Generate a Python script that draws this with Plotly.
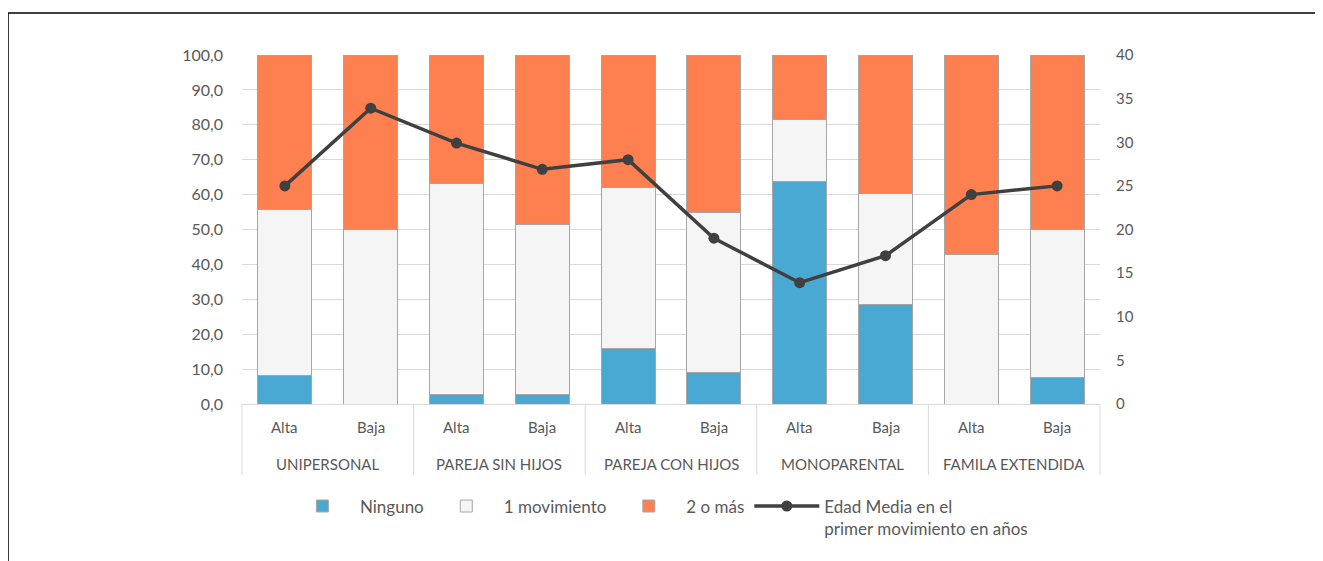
import plotly.graph_objects as go

groups = ["UNIPERSONAL", "UNIPERSONAL", "PAREJA SIN HIJOS", "PAREJA SIN HIJOS",
          "PAREJA CON HIJOS", "PAREJA CON HIJOS", "MONOPARENTAL", "MONOPARENTAL",
          "FAMILA EXTENDIDA", "FAMILA EXTENDIDA"]
levels = ["Alta", "Baja"] * 5

ninguno = [8.3, 0.0, 2.6, 2.6, 16.0, 9.1, 63.7, 28.4, 0.0, 7.5]
un_mov = [47.3, 50.0, 60.7, 48.7, 45.9, 45.8, 17.9, 31.8, 42.7, 42.4]
dos_mas = [44.4, 50.0, 36.7, 48.7, 38.1, 45.1, 18.4, 39.8, 57.3, 50.1]
edad_media = [25.0, 33.9, 29.9, 26.9, 28.0, 19.0, 13.9, 17.0, 24.0, 25.0]

FONT = "Lato"
TXT = "#595959"
GRID = "#d9d9d9"
x = [groups, levels]
n = len(levels)

fig = go.Figure()
bar_line = dict(color="#a6a6a6", width=1)
fig.add_trace(go.Bar(x=x, y=ninguno, name="Ninguno",
                     marker=dict(color="#4aa9d3", line=bar_line)))
fig.add_trace(go.Bar(x=x, y=un_mov, name="1 movimiento",
                     marker=dict(color="#f5f5f5", line=bar_line)))
fig.add_trace(go.Bar(x=x, y=dos_mas, name="2 o más",
                     marker=dict(color="#fe7f50", line=bar_line)))
fig.add_trace(go.Scatter(x=x, y=edad_media, yaxis="y2", mode="lines+markers",
                         name="Edad Media en el<br>primer movimiento en años",
                         line=dict(color="#404040", width=3.5),
                         marker=dict(color="#404040", size=11)))

# category table below the plot (labels + divider lines)
annotations = []
for i, lv in enumerate(levels):
    annotations.append(dict(text=lv, xref="paper", yref="paper", x=(i + 0.5) / n,
                            y=-0.066, showarrow=False, xanchor="center",
                            yanchor="middle",
                            font=dict(family=FONT, size=15, color=TXT)))
uniq = []
for g in groups:
    if g not in uniq:
        uniq.append(g)
ng = len(uniq)
for k, g in enumerate(uniq):
    annotations.append(dict(text=g, xref="paper", yref="paper", x=(k + 0.5) / ng,
                            y=-0.172, showarrow=False, xanchor="center",
                            yanchor="middle",
                            font=dict(family=FONT, size=15, color=TXT)))

shapes = []
for k in range(ng + 1):
    shapes.append(dict(type="line", xref="paper", yref="paper", x0=k / ng, x1=k / ng,
                       y0=0, y1=-0.203, line=dict(color=GRID, width=1)))
# outer frame of the image
shapes.append(dict(type="line", xref="paper", yref="paper", x0=-0.2727, x1=1.35,
                   y0=1.1203, y1=1.1203, line=dict(color="black", width=1.5)))
shapes.append(dict(type="line", xref="paper", yref="paper", x0=-0.2727, x1=-0.2727,
                   y0=1.1203, y1=-0.6, line=dict(color="black", width=1.5)))

fig.update_layout(
    width=1315, height=553,
    margin=dict(l=234, r=223, t=47, b=157),
    paper_bgcolor="white", plot_bgcolor="white",
    barmode="stack", bargap=0.37,
    separators=",.",
    font=dict(family=FONT, size=15, color=TXT),
    showlegend=True,
    legend=dict(orientation="h", x=0.05, xanchor="left", y=-0.242, yanchor="top",
                font=dict(family=FONT, size=17, color=TXT), traceorder="normal",
                itemwidth=65, valign="top"),
    xaxis=dict(type="multicategory", range=[-0.5, n - 0.5], showgrid=False,
               showline=True, linecolor=GRID, linewidth=1, ticks="",
               showticklabels=False, showdividers=False),
    yaxis=dict(range=[0, 100], dtick=10, tickformat=".1f", showgrid=True,
               gridcolor=GRID, gridwidth=1, zeroline=False, showline=False,
               ticks="", ticklabelstandoff=18,
               tickfont=dict(family=FONT, size=16, color=TXT)),
    yaxis2=dict(range=[0, 40], dtick=5, overlaying="y", side="right",
                showgrid=False, zeroline=False, showline=False, ticks="",
                ticklabelstandoff=15,
                tickfont=dict(family=FONT, size=15, color=TXT)),
    annotations=annotations,
    shapes=shapes,
)

fig.write_html("out.html")
